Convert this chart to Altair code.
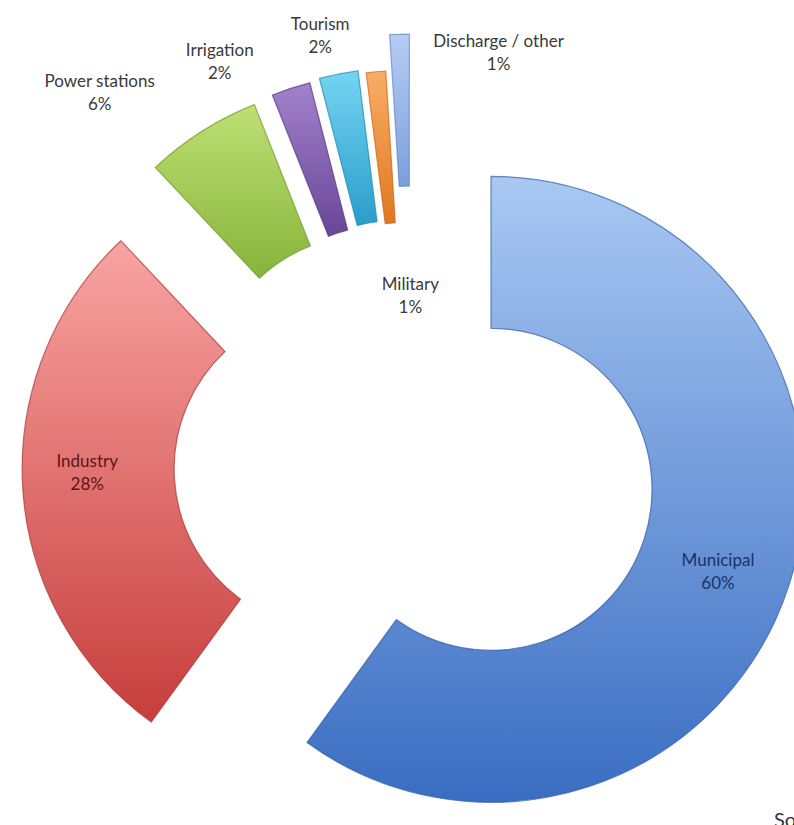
import altair as alt
import pandas as pd

# ---- data ----
categories = ["Municipal", "Industry", "Power stations", "Irrigation", "Tourism", "Military", "Discharge / other"]
values = [60, 28, 6, 2, 2, 1, 1]

# ---- styling (not data) ----
CX, CY = 413, 464
OUTER_R, INNER_R = 313, 161
explode = {"Municipal": 82, "Industry": 78, "Power stations": 81, "Irrigation": 82,
           "Tourism": 84, "Military": 81, "Discharge / other": 117}
# label placement, polar from each slice's own centre: (angle deg clockwise from top, radius px)
label_angle = {"Municipal": 107.5, "Industry": 271.5, "Power stations": 319.3, "Irrigation": 333.4,
               "Tourism": 347.8, "Military": 2.9, "Discharge / other": 16.3}
label_radius = {"Municipal": 238, "Industry": 248, "Power stations": 414, "Irrigation": 375,
                "Tourism": 365, "Military": 98, "Discharge / other": 318}
gradients = {
    "Municipal": ("#a9c8f3", "#3a6dc2", "#2f5ea8"),
    "Industry": ("#f9a4a2", "#c63e3c", "#a83333"),
    "Power stations": ("#bde074", "#86b43a", "#6f9a2c"),
    "Irrigation": ("#a382cc", "#694597", "#553880"),
    "Tourism": ("#74d4f2", "#2a9dcb", "#2088b0"),
    "Military": ("#f9ad66", "#e0781f", "#c4661a"),
    "Discharge / other": ("#b6cdf3", "#7b9fdc", "#6486c0"),
}
label_colors = {"Municipal": "#1b3462", "Industry": "#5e1414", "Power stations": "#3a3a3a",
                "Irrigation": "#3a3a3a", "Tourism": "#3a3a3a", "Military": "#3a3a3a",
                "Discharge / other": "#3a3a3a"}

df = pd.DataFrame({"category": categories, "value": values})
df["order"] = range(len(df))
df["explode"] = df["category"].map(explode)
df["la"] = df["category"].map(label_angle)
df["lr"] = df["category"].map(label_radius)

base = alt.Chart(df).transform_window(
    cum="sum(value)", sort=[alt.SortField("order")], frame=[None, 0]
).transform_calculate(
    start="datum.cum - datum.value",
    end="datum.cum",
).transform_calculate(
    midrad="(datum.start + datum.end) / 200 * 2 * PI",
).transform_calculate(
    cx=f"{CX} + datum.explode * sin(datum.midrad)",
    cy=f"{CY} - datum.explode * cos(datum.midrad)",
).transform_calculate(
    lx="datum.cx + datum.lr * sin(datum.la * PI / 180)",
    ly="datum.cy - datum.lr * cos(datum.la * PI / 180)",
    label="datum.category + '\\n' + datum.value + '%'",
)

theta_scale = alt.Scale(domain=[0, 100], range=[0, 6.283185307179586])

layers = []
for cat in categories:
    top, bottom, edge = gradients[cat]
    grad = alt.LinearGradient(
        gradient="linear", x1=0, y1=0, x2=0, y2=1,
        stops=[alt.GradientStop(color=top, offset=0), alt.GradientStop(color=bottom, offset=1)],
    )
    layers.append(
        base.transform_filter(alt.datum.category == cat)
        .mark_arc(radius=OUTER_R, radius2=INNER_R, fill=grad, stroke=edge, strokeWidth=1.2, strokeOpacity=0.7)
        .encode(
            x=alt.X("cx:Q", scale=None, axis=None),
            y=alt.Y("cy:Q", scale=None, axis=None),
            theta=alt.Theta("start:Q", scale=theta_scale, stack=None),
            theta2="end:Q",
        )
    )

labels = base.mark_text(font="Lato", fontSize=17, lineBreak="\n", align="center",
                        baseline="middle", lineHeight=23).encode(
    x=alt.X("lx:Q", scale=None, axis=None),
    y=alt.Y("ly:Q", scale=None, axis=None),
    text="label:N",
    color=alt.Color("category:N", scale=alt.Scale(domain=categories,
                    range=[label_colors[c] for c in categories]), legend=None),
)

source = alt.Chart(pd.DataFrame({"t": ["Source"]})).mark_text(
    font="Lato", fontSize=20, align="left", baseline="top", color="#333333"
).encode(x=alt.value(774), y=alt.value(811), text="t:N")

chart = alt.layer(*layers, labels, source).properties(
    width=794, height=825, autosize=alt.AutoSizeParams(type="none"), padding=0
).configure_view(stroke=None)

chart.save("out.html", embed_options={"renderer": "svg", "actions": False})
